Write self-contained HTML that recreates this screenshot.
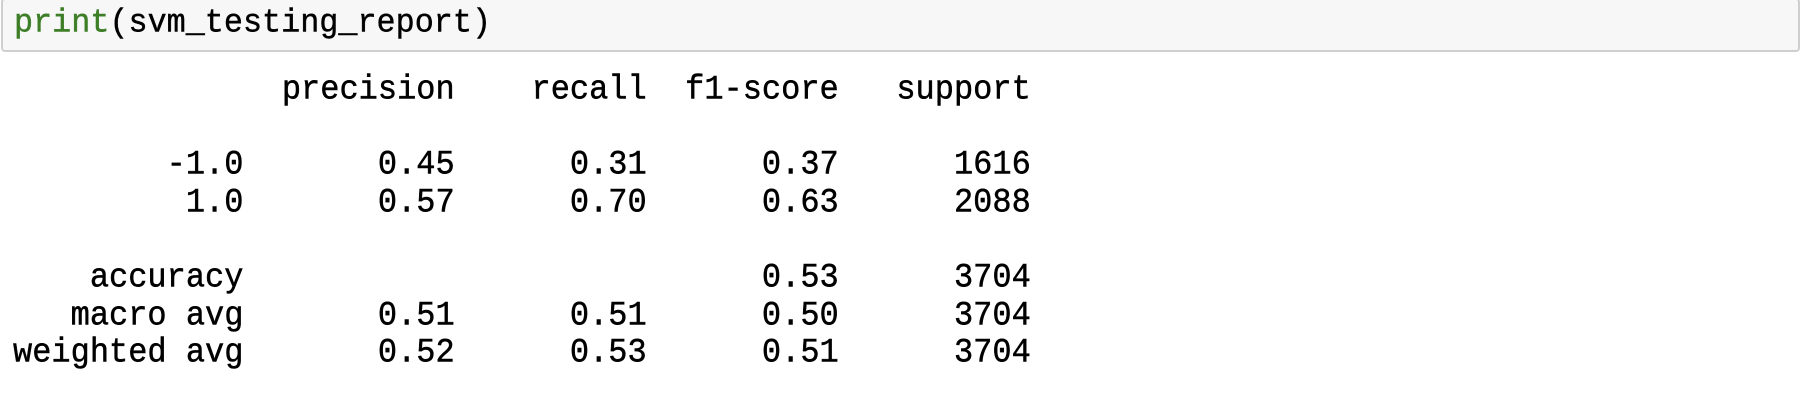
<!DOCTYPE html>
<html><head><meta charset="utf-8"><style>
html,body{margin:0;padding:0;background:#fff;width:1804px;height:408px;overflow:hidden;}
#cell{position:absolute;left:1px;top:-2px;width:1799px;height:54px;background:#f7f7f7;border:2px solid #cfcfcf;border-radius:4px;box-sizing:border-box;}
#code{position:absolute;left:11px;top:3px;font-family:"Liberation Mono",monospace;font-size:31.8px;line-height:40px;color:#000;white-space:pre;margin:0;-webkit-text-stroke:0.4px currentColor;transform:scaleY(1.06);transform-origin:0 50%;}
.bi{color:#3d7e27;}
#out{position:absolute;left:13px;top:71px;font-family:"Liberation Mono",monospace;font-size:32px;line-height:37.6px;color:#000;white-space:pre;margin:0;-webkit-text-stroke:0.45px #000;}
#out span{display:inline-block;transform:scaleY(1.08);}
</style></head><body>
<div id="cell"><pre id="code"><span class="bi">print</span>(svm_testing_report)</pre></div>
<pre id="out"><span>              precision    recall  f1-score   support</span>

<span>        -1.0       0.45      0.31      0.37      1616</span>
<span>         1.0       0.57      0.70      0.63      2088</span>

<span>    accuracy                           0.53      3704</span>
<span>   macro avg       0.51      0.51      0.50      3704</span>
<span>weighted avg       0.52      0.53      0.51      3704</span></pre>
</body></html>
